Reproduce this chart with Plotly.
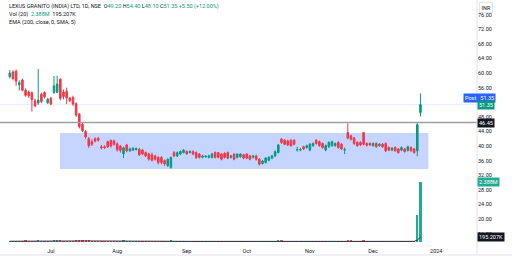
import pandas as pd
import plotly.graph_objects as go

# ---------------- data ----------------
holidays = ["2023-06-29", "2023-08-15", "2023-09-19", "2023-09-28", "2023-10-02",
            "2023-10-24", "2023-11-14", "2023-11-27", "2023-12-25"]
dates = [d.strftime("%Y-%m-%d") for d in pd.bdate_range("2023-06-13", "2023-12-22")
         if d.strftime("%Y-%m-%d") not in holidays]

opens = [59.0, 60.3, 60.5, 56.8, 58.1, 55.3, 54.8, 54.6, 52.4, 51.8,
         54.2, 54.7, 51.9, 53.1, 54.7, 54.7, 58.3, 54.8, 55.0, 53.1,
         53.3, 51.6, 48.8, 46.0, 44.0, 42.0, 41.2, 42.0, 42.1, 39.8,
         39.8, 41.2, 41.5, 41.4, 40.6, 40.0, 37.9, 40.3, 38.7, 38.9,
         39.0, 39.1, 38.9, 38.2, 37.8, 37.6, 37.3, 36.9, 36.9, 36.0,
         34.6, 34.1, 38.2, 37.3, 37.8, 38.2, 38.5, 38.2, 38.5, 38.2,
         37.8, 36.9, 37.0, 36.9, 36.9, 38.2, 38.2, 37.8, 38.0, 38.2,
         36.9, 37.8, 36.9, 37.1, 37.6, 37.8, 37.3, 36.9, 37.3, 36.4,
         35.2, 35.5, 36.1, 36.7, 37.3, 38.2, 41.9, 41.6, 41.4, 41.6,
         41.6, 38.9, 38.9, 39.8, 39.6, 38.9, 40.1, 41.6, 41.2, 40.7,
         38.9, 39.8, 40.1, 40.1, 41.0, 40.5, 38.9, 43.7, 42.8, 42.2,
         41.0, 41.0, 43.7, 40.7, 40.7, 40.1, 40.7, 40.1, 40.5, 40.7,
         39.6, 38.9, 39.6, 39.2, 38.9, 39.2, 38.8, 39.6, 39.2, 38.7,
         49.2]
closes = [60.0, 58.5, 57.8, 57.4, 55.3, 53.9, 53.8, 52.7, 51.0, 52.6,
          52.2, 53.5, 52.8, 51.5, 56.5, 57.0, 53.1, 53.6, 53.2, 52.4,
          51.5, 48.5, 45.3, 44.2, 42.5, 40.1, 40.5, 41.4, 41.6, 39.5,
          39.6, 39.8, 40.0, 40.5, 39.0, 38.8, 39.5, 38.7, 39.2, 39.4,
          39.3, 37.6, 37.8, 37.3, 36.4, 36.1, 36.4, 35.5, 35.5, 35.1,
          36.4, 36.9, 37.3, 38.2, 38.5, 38.9, 37.9, 38.5, 37.8, 36.8,
          36.9, 37.3, 37.2, 37.3, 37.8, 36.9, 36.9, 36.4, 36.9, 36.7,
          37.3, 36.4, 37.8, 37.8, 36.7, 36.7, 36.4, 37.3, 36.4, 35.0,
          35.9, 36.7, 36.9, 37.3, 38.5, 40.3, 41.0, 40.5, 40.3, 40.1,
          40.5, 39.0, 39.0, 39.2, 40.1, 40.5, 40.7, 40.7, 40.1, 39.6,
          40.1, 41.0, 41.2, 40.7, 39.6, 39.2, 39.0, 42.2, 41.9, 40.7,
          40.1, 40.3, 40.5, 40.2, 40.3, 40.7, 39.8, 40.5, 39.8, 38.7,
          38.9, 39.4, 38.7, 38.2, 39.6, 38.5, 39.8, 38.7, 38.2, 45.85,
          51.35]
highs = [60.8, 60.8, 61.0, 58.0, 58.5, 55.8, 55.2, 55.0, 53.0, 61.1,
         54.6, 55.0, 53.2, 53.5, 59.2, 59.3, 58.6, 55.5, 56.0, 53.5,
         53.8, 52.0, 49.0, 46.4, 44.4, 42.5, 41.8, 42.4, 42.5, 40.3,
         40.2, 41.5, 41.8, 41.8, 41.0, 40.3, 39.8, 40.6, 39.6, 39.7,
         39.6, 39.5, 39.2, 38.5, 38.2, 38.2, 37.6, 37.2, 37.2, 36.3,
         36.6, 37.1, 38.6, 38.5, 38.8, 39.2, 38.8, 38.8, 38.8, 38.5,
         38.1, 37.6, 37.5, 37.6, 38.1, 38.5, 38.4, 38.0, 38.3, 38.5,
         37.6, 38.0, 38.0, 38.0, 37.9, 38.0, 37.6, 37.6, 37.6, 36.7,
         36.2, 37.0, 37.2, 37.6, 38.8, 40.6, 42.2, 41.9, 41.7, 41.9,
         41.9, 39.8, 39.5, 40.1, 40.4, 40.8, 41.0, 41.9, 41.5, 41.0,
         40.4, 41.3, 41.5, 41.0, 41.3, 40.8, 39.6, 46.2, 43.1, 42.5,
         41.3, 41.3, 43.8, 41.0, 41.0, 41.0, 41.0, 40.8, 40.8, 41.0,
         39.9, 39.7, 39.9, 39.5, 39.9, 39.5, 40.1, 39.9, 39.5, 46.4,
         54.4]
lows = [58.5, 58.0, 56.5, 55.2, 55.0, 53.5, 53.2, 49.5, 50.6, 51.3,
        51.8, 53.0, 51.5, 51.2, 54.3, 54.5, 52.5, 52.8, 51.5, 52.0,
        51.0, 48.0, 44.8, 43.8, 42.0, 39.5, 40.0, 41.0, 41.2, 39.1,
        39.2, 39.5, 39.6, 40.1, 38.5, 38.2, 36.7, 38.3, 38.4, 38.6,
        38.8, 37.3, 37.5, 37.0, 36.0, 35.8, 36.0, 35.0, 35.0, 34.6,
        34.3, 33.8, 37.0, 37.0, 37.5, 38.0, 37.6, 38.0, 37.5, 36.5,
        36.6, 36.6, 36.8, 36.6, 36.6, 36.6, 36.6, 36.1, 36.6, 36.4,
        36.6, 36.1, 36.6, 36.8, 36.4, 36.4, 36.1, 36.6, 36.0, 34.7,
        35.0, 35.2, 35.8, 36.4, 37.0, 38.0, 40.6, 40.2, 40.0, 39.8,
        40.2, 38.5, 38.6, 38.9, 39.3, 38.6, 39.8, 40.4, 39.8, 39.3,
        38.6, 39.5, 39.8, 39.8, 39.3, 38.9, 37.8, 41.8, 41.5, 40.3,
        39.8, 40.0, 40.2, 39.9, 40.0, 39.8, 39.5, 39.8, 39.5, 38.4,
        38.6, 38.6, 38.4, 37.9, 38.6, 38.2, 38.5, 38.4, 37.9, 37.2,
        48.1]
volumes_k = [30, 28, 35, 25, 32, 40, 28, 35, 30, 70,
             35, 25, 22, 28, 45, 40, 45, 30, 28, 22,
             30, 60, 90, 70, 50, 45, 35, 30, 28, 25,
             22, 30, 28, 25, 30, 28, 50, 30, 22, 20,
             18, 25, 22, 20, 25, 28, 22, 30, 28, 35,
             30, 40, 25, 20, 18, 22, 20, 18, 20, 25,
             20, 15, 15, 18, 20, 22, 20, 25, 22, 20,
             18, 22, 20, 18, 22, 20, 25, 18, 22, 30,
             25, 22, 20, 22, 35, 60, 45, 30, 28, 25,
             22, 18, 15, 20, 20, 22, 18, 25, 22, 20,
             25, 22, 20, 18, 25, 22, 20, 90, 50, 35,
             28, 25, 67, 25, 22, 20, 22, 20, 22, 25,
             22, 20, 22, 25, 20, 22, 20, 25, 22, 1070,
             2388]

month_ticks = ["2023-07-03", "2023-08-01", "2023-09-01", "2023-10-03",
               "2023-11-01", "2023-12-01", "2024-01-01"]
month_labels = ["Jul", "Aug", "Sep", "Oct", "Nov", "Dec", "2024"]
# 52.00 is hidden behind the last-price labels in the original
price_ticks = [16, 20, 24, 28, 32, 36, 40, 44, 48, 56, 60, 64, 68, 72, 76]

box_dates = ["2023-07-05 21:00", "2023-12-27 12:00"]
box_prices = [33.7, 43.6]
ema_level = 46.45
last_price = 51.35
last_volume = 2388000
vol_ma_last = 195207

assert len(dates) == len(opens) == len(closes) == len(highs) == len(lows) == len(volumes_k)

# ---------------- styling ----------------
UP = "#089981"
DN = "#f23645"
VUP = "#22ab94"
VDN = "#f7525f"
TXT = "#131722"
FONT = "Roboto"
FS = 5.5

volumes = [v * 1000 for v in volumes_k]
vol_colors = [VUP if c >= o else VDN for o, c in zip(opens, closes)]
vol_ma = pd.Series(volumes).rolling(20, min_periods=1).mean()

fig = go.Figure()
fig.add_trace(go.Bar(x=dates, y=volumes, marker_color=vol_colors, marker_line_width=0,
                     width=0.7 * 86400000, yaxis="y2", showlegend=False, hoverinfo="skip"))
fig.add_trace(go.Scatter(x=dates, y=vol_ma, mode="lines", line=dict(color="#2a2e39", width=1),
                         yaxis="y2", showlegend=False, hoverinfo="skip"))
fig.add_trace(go.Candlestick(
    x=dates, open=opens, high=highs, low=lows, close=closes,
    increasing=dict(line=dict(color=UP, width=1), fillcolor=UP),
    decreasing=dict(line=dict(color=DN, width=1), fillcolor=DN),
    whiskerwidth=0, showlegend=False, hoverinfo="skip"))

fig.update_layout(
    width=512, height=261,
    margin=dict(l=0, r=35, t=0, b=19),
    paper_bgcolor="white", plot_bgcolor="white",
    font=dict(family=FONT, size=FS, color=TXT),
    bargap=0,
    xaxis=dict(
        type="date",
        range=["2023-06-07 21:36", "2024-01-17 21:36"],
        rangebreaks=[dict(bounds=["sat", "mon"]), dict(values=holidays)],
        tickvals=month_ticks, ticktext=month_labels,
        showgrid=False, zeroline=False, showline=False, ticks="",
        ticklabelstandoff=4,
        rangeslider=dict(visible=False),
        tickfont=dict(size=FS, color=TXT, family=FONT),
        fixedrange=True,
    ),
    yaxis=dict(
        side="right", range=[13.7, 80.03],
        tickvals=price_ticks, ticktext=[f"{v:.2f}" for v in price_ticks],
        showgrid=False, zeroline=False, showline=False, ticks="",
        tickfont=dict(size=FS, color=TXT, family=FONT),
    ),
    yaxis2=dict(overlaying="y", range=[0, last_volume * 242 / 60], visible=False),
)

shapes = [
    dict(type="rect", xref="x", yref="y", x0=box_dates[0], x1=box_dates[1],
         y0=box_prices[0], y1=box_prices[1], fillcolor="rgba(41,98,255,0.27)",
         line=dict(width=0), layer="below"),
    dict(type="line", xref="paper", yref="y", x0=0, x1=1, y0=ema_level, y1=ema_level,
         line=dict(color="#9e9e9e", width=1.3)),
    dict(type="line", xref="paper", yref="y", x0=0, x1=1, y0=last_price, y1=last_price,
         line=dict(color="rgba(41,98,255,0.13)", width=1)),
    # pane separators
    dict(type="line", xref="paper", yref="paper", x0=1, x1=1, y0=-13 / 242, y1=1,
         line=dict(color="#e0e3eb", width=1)),
    dict(type="line", xref="paper", yref="paper", x0=0, x1=512 / 477, y0=-13 / 242, y1=-13 / 242,
         line=dict(color="#e0e3eb", width=1)),
]
fig.update_layout(shapes=shapes)

G = "color:" + UP
hdr1 = ("LEXUS GRANITO (INDIA) LTD, 1D, NSE\u00a0\u00a0"
        f"O<span style='{G}'>49.20</span>\u00a0H<span style='{G}'>54.40</span>\u00a0"
        f"L<span style='{G}'>48.10</span>\u00a0C<span style='{G}'>51.35</span>\u00a0"
        f"<span style='{G}'>+5.50 (+12.00%)</span>")
hdr2 = f"Vol (20)\u00a0\u00a0<span style='{G}'>2.388M</span>\u00a0\u00a0195.207K"
hdr3 = "EMA (200, close, 0, SMA, 5)"

ann = []
for i, t in enumerate([hdr1, hdr2, hdr3]):
    ann.append(dict(xref="paper", yref="paper", x=7 / 477, y=1 - (6 + 8 * i) / 242,
                    xanchor="left", yanchor="middle", text=t, showarrow=False,
                    font=dict(size=FS, color=TXT, family=FONT)))

def label(text, y, yref, bg, xshift=0, yshift=0):
    return dict(xref="paper", yref=yref, x=1, y=y, xanchor="left", yanchor="middle",
                text=text, showarrow=False, bgcolor=bg, borderpad=1,
                xshift=xshift, yshift=yshift,
                font=dict(size=FS, color="white", family=FONT))

ann.append(label("Post\u00a0\u00a0\u00a051.35", last_price, "y", "#2962ff", xshift=-14, yshift=7))
ann.append(label(f"{last_price:.2f}", last_price, "y", UP, xshift=0, yshift=-0.5))
ann.append(label(f"{ema_level:.2f}", ema_level, "y", "#131722"))
ann.append(label("2.388M", last_volume, "y2", VUP))
ann.append(label("195.207K", vol_ma_last, "y2", "#131722"))
ann.append(dict(xref="paper", yref="paper", x=1, y=1, xanchor="left", yanchor="top",
                xshift=2, yshift=-2, text="INR", showarrow=False, bgcolor="white",
                bordercolor="#e0e3eb", borderwidth=1, borderpad=1.5,
                font=dict(size=FS, color=TXT, family=FONT)))
fig.update_layout(annotations=ann)

fig.write_html("out.html")
